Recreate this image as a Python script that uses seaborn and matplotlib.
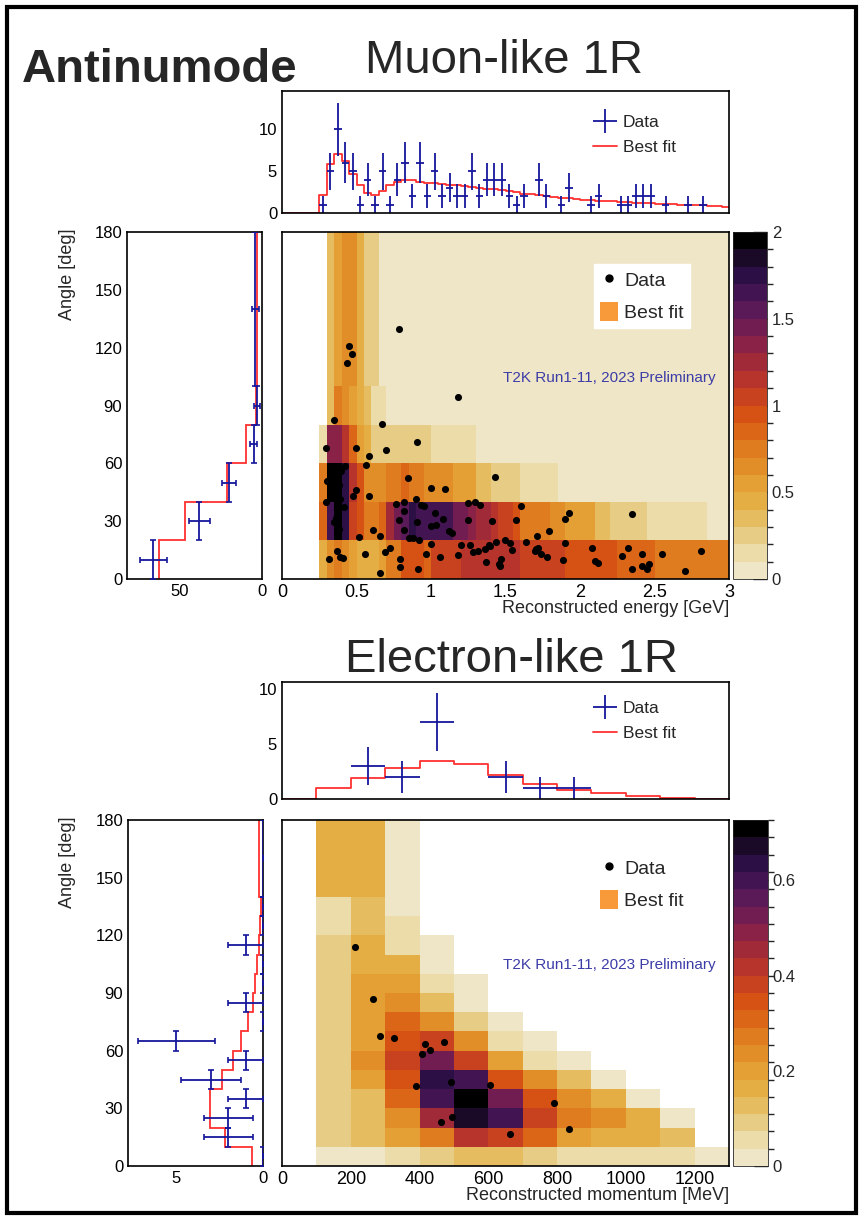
import numpy as np
import matplotlib
matplotlib.use("Agg")
import matplotlib.pyplot as plt
import seaborn as sns
from matplotlib.colors import ListedColormap, BoundaryNorm
from matplotlib.lines import Line2D
from matplotlib.patches import Patch, Rectangle
from matplotlib.ticker import MultipleLocator, FuncFormatter

sns.set_theme(style="white")
plt.rcParams["font.family"] = ["Liberation Sans", "DejaVu Sans"]

# ---------------- Muon-like 1R data ----------------
mu_e_edges = np.round(np.arange(0, 3.0001, 0.05), 3)
mu_top_data = [0, 0, 0, 0, 0, 1, 5, 10, 6, 5, 1, 4, 1, 5, 1, 4, 6, 2, 6, 2,
               5, 2, 3, 2, 2, 5, 2, 4, 4, 4, 2, 1, 2, 0, 4, 2, 0, 1, 3, 0,
               0, 1, 2, 0, 0, 1, 1, 2, 2, 2, 0, 1, 0, 0, 1, 0, 1, 0, 0, 0]
mu_top_fit = [0, 0, 0, 0, 0, 2.1, 5.9, 7.1, 6.2, 4.7, 3.3, 2.4, 2.2, 2.6, 3.3,
              3.7, 4.0, 3.9, 3.7, 3.6, 3.55, 3.45, 3.35, 3.3, 3.2, 3.1, 3.0, 2.9, 2.85, 2.7,
              2.6, 2.5, 2.3, 2.25, 2.1, 2.05, 1.9, 1.85, 1.75, 1.7, 1.6, 1.5, 1.48, 1.45, 1.4,
              1.35, 1.3, 1.25, 1.2, 1.15, 1.1, 1.08, 1.05, 1.0, 0.97, 0.93, 0.9, 0.85, 0.8, 0.76]

mu_ang_edges = [0, 20, 40, 60, 80, 100, 180]
mu_left_data = [66, 38, 20, 5, 3, 4]
mu_left_fit = [62.3, 47.0, 21.5, 9.5, 3.4, 3.0]

# best-fit 2D: per angle row, energy segment edges and contents
mu_row_edges = [
    [0.25, 0.3, 0.35, 0.4, 0.45, 0.5, 0.65, 0.7, 0.8, 0.95, 1.0, 1.2, 1.4, 1.5, 1.6, 1.9, 2.25, 2.4, 2.5, 2.7, 3.0],
    [0.25, 0.3, 0.35, 0.4, 0.45, 0.5, 0.55, 0.65, 0.7, 0.75, 0.8, 0.85, 0.9, 0.95, 1.15, 1.25, 1.3, 1.4, 1.45,
     1.55, 1.6, 1.8, 1.9, 2.1, 2.2, 2.45, 2.85, 3.0],
    [0.25, 0.3, 0.4, 0.45, 0.5, 0.55, 0.7, 0.8, 0.85, 0.95, 1.15, 1.3, 1.4, 1.6, 1.85, 3.0],
    [0.25, 0.3, 0.4, 0.45, 0.5, 0.55, 0.6, 1.0, 1.3, 3.0],
    [0.3, 0.35, 0.4, 0.45, 0.5, 0.55, 0.6, 0.7, 3.0],
    [0.3, 0.35, 0.4, 0.5, 0.55, 0.65, 3.0],
]
mu_row_vals = [
    [0.45, 0.65, 0.75, 0.65, 0.55, 0.42, 0.55, 0.75, 0.95, 0.85, 1.05, 1.15, 1.2, 1.15, 1.05, 0.95, 0.88, 0.82,
     0.76, 0.72],
    [0.82, 1.65, 1.95, 1.75, 1.05, 0.95, 0.75, 0.85, 1.25, 1.45, 1.55, 1.75, 1.65, 1.6, 1.45, 1.35, 1.25, 1.15,
     1.05, 0.95, 0.75, 0.65, 0.55, 0.35, 0.25, 0.15, 0.05],
    [0.75, 1.95, 1.75, 1.15, 0.95, 0.65, 0.75, 0.85, 0.75, 0.65, 0.55, 0.38, 0.27, 0.15, 0.05],
    [0.15, 1.35, 1.1, 0.82, 0.55, 0.42, 0.27, 0.18, 0.05],
    [0.38, 0.78, 0.65, 0.55, 0.42, 0.32, 0.18, 0.05],
    [0.35, 0.55, 0.62, 0.42, 0.22, 0.05],
]

mu_dot_e = [0.782, 0.453, 0.469, 0.438, 1.179, 0.351, 0.670,
            0.905, 0.292, 0.494, 0.697, 0.587,
            0.565, 0.420, 0.397, 0.301, 0.847, 1.430, 1.000, 1.097, 0.494, 0.478, 0.587, 0.900, 0.297, 1.293,
            0.32, 0.35, 0.38, 0.33, 0.36, 0.39,
            0.820, 0.762, 0.820, 0.931, 0.954, 1.027, 1.246, 1.329, 0.784, 0.905, 1.032, 1.000, 1.079, 1.249,
            0.418, 0.351, 0.817, 0.855, 0.880, 0.920, 0.614, 0.657, 0.518, 1.123, 1.141, 1.606, 1.407, 1.572,
            2.350, 1.928, 1.901, 1.794, 1.711, 1.494,
            0.37, 0.36, 0.38, 0.37,
            1.000, 1.204, 1.264, 1.313, 1.282, 1.184, 1.061, 0.969, 0.795, 0.793, 0.914, 0.728, 0.688, 0.558,
            0.657, 0.368, 0.386, 0.411, 0.315,
            1.640, 1.436, 1.530, 1.543, 1.389, 1.362, 1.704, 1.698, 1.735, 1.776, 1.899, 1.885, 2.080, 2.100,
            2.124, 2.283, 2.323, 2.415, 2.553, 2.814, 2.415, 2.462, 2.452, 2.348, 2.705, 1.459, 1.461, 1.467,
            1.367, 1.396, 1.715]
mu_dot_ang = [129.6, 120.9, 116.8, 112.3, 94.2, 82.4, 80.4,
              71.0, 68.1, 67.7, 66.9, 63.8,
              59.3, 58.6, 56.0, 51.0, 52.2, 52.7, 47.3, 46.5, 46.1, 43.0, 43.0, 41.3, 40.1, 40.1,
              55.5, 52.0, 49.0, 46.0, 43.5, 41.5,
              39.7, 38.7, 35.4, 38.5, 37.7, 34.4, 39.2, 38.2, 30.6, 29.5, 27.8, 27.5, 31.1, 30.6,
              37.5, 29.7, 25.4, 21.4, 21.1, 20.4, 25.2, 22.4, 21.6, 24.7, 24.0, 37.7, 30.1, 30.4,
              33.7, 34.2, 31.1, 25.1, 22.3, 20.2,
              36.0, 31.5, 26.0, 23.0,
              18.1, 17.6, 17.6, 14.7, 14.1, 12.2, 11.4, 13.1, 10.5, 6.4, 5.2, 16.1, 13.8, 12.9,
              2.9, 14.3, 11.5, 10.7, 10.5,
              19.2, 19.2, 18.5, 14.9, 17.5, 15.6, 15.7, 14.4, 13.0, 11.2, 18.8, 9.9, 16.1, 9.5,
              8.5, 12.1, 16.1, 13.1, 12.8, 14.5, 6.9, 7.6, 5.2, 5.4, 4.0, 7.8, 6.7, 10.2,
              8.8, 17.3, 16.2]

# ---------------- Electron-like 1R data ----------------
e_mom_edges = list(range(0, 1301, 100))
e_top_data = [0, 0, 3, 2, 7, 0, 2, 1, 1, 0, 0, 0, 0]
e_top_fit = [0, 1.04, 1.92, 2.81, 3.46, 3.17, 2.19, 1.33, 0.83, 0.5, 0.24, 0.09, 0.03]

e_ang_edges = [0, 10, 20, 30, 40, 50, 60, 70, 80, 90, 100, 110, 120, 130, 140, 180]
e_left_data = [0, 2, 2, 1, 3, 1, 5, 0, 1, 0, 0, 1, 0, 0, 0]
e_left_fit = [0.66, 2.18, 3.05, 3.05, 2.37, 1.75, 1.25, 0.84, 0.60, 0.45, 0.33, 0.25, 0.19, 0.14, 0.21]

# best-fit 2D, rows = angle bins (bottom to top), columns = 100..1300 MeV (0 = empty)
e_fit_2d = [
    [0.018, 0.018, 0.055, 0.091, 0.127, 0.127, 0.091, 0.055, 0.055, 0.055, 0.055, 0.018],
    [0.091, 0.127, 0.200, 0.273, 0.418, 0.382, 0.309, 0.200, 0.164, 0.164, 0.127, 0],
    [0.091, 0.127, 0.236, 0.455, 0.673, 0.600, 0.382, 0.273, 0.236, 0.164, 0.018, 0],
    [0.091, 0.127, 0.309, 0.600, 0.709, 0.527, 0.345, 0.236, 0.164, 0.018, 0, 0],
    [0.091, 0.200, 0.345, 0.636, 0.600, 0.345, 0.236, 0.127, 0.018, 0, 0, 0],
    [0.091, 0.236, 0.382, 0.527, 0.382, 0.200, 0.055, 0.018, 0, 0, 0, 0],
    [0.091, 0.200, 0.345, 0.382, 0.236, 0.055, 0.018, 0, 0, 0, 0, 0],
    [0.091, 0.200, 0.309, 0.236, 0.091, 0.018, 0, 0, 0, 0, 0, 0],
    [0.091, 0.200, 0.236, 0.127, 0.018, 0, 0, 0, 0, 0, 0, 0],
    [0.091, 0.200, 0.200, 0.055, 0.018, 0, 0, 0, 0, 0, 0, 0],
    [0.091, 0.164, 0.164, 0.018, 0, 0, 0, 0, 0, 0, 0, 0],
    [0.091, 0.164, 0.055, 0.018, 0, 0, 0, 0, 0, 0, 0, 0],
    [0.055, 0.127, 0.055, 0, 0, 0, 0, 0, 0, 0, 0, 0],
    [0.055, 0.127, 0.018, 0, 0, 0, 0, 0, 0, 0, 0, 0],
    [0.164, 0.164, 0.018, 0, 0, 0, 0, 0, 0, 0, 0, 0],
]

e_dot_mom = [213, 266, 285, 325, 415, 470, 429, 407, 390, 492, 604, 792, 494, 462, 663, 836]
e_dot_ang = [113.9, 87.0, 67.8, 66.4, 63.6, 64.5, 60.3, 58.1, 41.4, 43.5, 42.1, 32.8, 25.5, 22.7, 16.8, 19.2]

# ---------------- style ----------------
palette = ["#efe6c8", "#ebdcaa", "#e6cc85", "#e6bc60", "#e5ae45", "#e4a035", "#e18e28", "#df7c20",
           "#dc6618", "#d65214", "#c8421f", "#b6342b", "#a12a38", "#892246", "#721d51", "#5a1a57",
           "#421552", "#2c0f44", "#1a0a28", "#000000"]
cmap = ListedColormap(palette)
BLUE = "#16169c"
RED = "#ff3030"
fmt_g = FuncFormatter(lambda v, p: f"{v:g}")

W, H = 864, 1217
fig = plt.figure(figsize=(W / 100, H / 100), dpi=100)


def px_axes(l, t, r, b):
    return fig.add_axes([l / W, 1 - b / H, (r - l) / W, (b - t) / H])


def frame(ax, xmaj, xmin, ymaj, ymin):
    ax.xaxis.set_major_locator(MultipleLocator(xmaj))
    ax.xaxis.set_minor_locator(MultipleLocator(xmin))
    ax.yaxis.set_major_locator(MultipleLocator(ymaj))
    ax.yaxis.set_minor_locator(MultipleLocator(ymin))
    ax.xaxis.set_major_formatter(fmt_g)
    ax.yaxis.set_major_formatter(fmt_g)
    ax.tick_params(which="both", direction="in", top=False, right=False, labelsize=12, colors="black")
    ax.tick_params(which="major", length=9, width=1)
    ax.tick_params(which="minor", length=5, width=0.8)
    ax.set_facecolor("white")
    for s in ax.spines.values():
        s.set_linewidth(1.2)
        s.set_color("black")


def top_panel(ax, edges, data, fit, xmaj, xmin, ylim, leg_y):
    edges = np.asarray(edges, float)
    data = np.asarray(data, float)
    centers = 0.5 * (edges[1:] + edges[:-1])
    half = 0.5 * np.diff(edges)
    sns.lineplot(x=edges, y=list(fit) + [fit[-1]], drawstyle="steps-post", color=RED, lw=1.3, ax=ax)
    nz = data > 0
    ax.errorbar(centers[nz], data[nz], yerr=np.sqrt(data[nz]), xerr=half[nz], fmt="none",
                ecolor=BLUE, elinewidth=1.3, capsize=0)
    ax.set_xlim(edges[0], edges[-1])
    ax.set_ylim(0, ylim)
    frame(ax, xmaj, xmin, 5, 1)
    ax.tick_params(axis="x", labelbottom=False)
    ax.set_xlabel("")
    ax.set_ylabel("")
    hd = [Line2D([], [], color=BLUE, marker="+", ms=17, mew=1.3, ls="none"),
          Line2D([], [], color=RED, lw=1.3)]
    ax.legend(hd, ["Data", "Best fit"], loc="upper left", bbox_to_anchor=(0.688, leg_y), frameon=False,
              fontsize=12.5, handlelength=1.4, handletextpad=0.3, labelspacing=0.55, borderpad=0.2,
              borderaxespad=0)


def left_panel(ax, edges, data, fit, xmax, xmaj, xmin):
    edges = np.asarray(edges, float)
    data = np.asarray(data, float)
    centers = 0.5 * (edges[1:] + edges[:-1])
    half = 0.5 * np.diff(edges)
    ax.stairs(fit, edges, orientation="horizontal", color=RED, lw=1.3, baseline=None)
    ax.errorbar(data, centers, xerr=np.sqrt(data), yerr=half, fmt="none", ecolor=BLUE,
                elinewidth=1.3, capsize=2.5, capthick=1.2, zorder=4)
    ax.set_xlim(xmax, 0)
    ax.set_ylim(0, 180)
    frame(ax, xmaj, xmin, 30, 10)


def main_panel(ax, xe, ye, Z, zmax, dx, dy, xmax, xmaj, xmin, xlabel):
    norm = BoundaryNorm(np.linspace(0, zmax, 21), ncolors=20)
    Z = np.ma.masked_where(~(np.asarray(Z) > 0), np.asarray(Z))
    mesh = ax.pcolormesh(xe, ye, Z, cmap=cmap, norm=norm, shading="flat", edgecolors="face", linewidth=0)
    sns.scatterplot(x=dx, y=dy, color="black", s=26, linewidth=0, ax=ax, legend=False, zorder=5)
    ax.set_xlim(0, xmax)
    ax.set_ylim(0, 180)
    frame(ax, xmaj, xmin, 30, 10)
    ax.tick_params(axis="y", labelleft=False)
    ax.tick_params(axis="x", labelsize=13)
    ax.set_xlabel("")
    ax.set_ylabel("")
    ax.text(1.0, -0.085, xlabel, transform=ax.transAxes, ha="right", va="center", fontsize=13)
    ax.text(0.971, 0.58, "T2K Run1-11, 2023 Preliminary", transform=ax.transAxes, ha="right",
            va="center", fontsize=11, color="#3c3ca8")
    hd = [Line2D([], [], color="black", marker="o", ms=5, ls="none"),
          Patch(facecolor="#f99a3a", edgecolor="none")]
    leg = ax.legend(hd, ["Data", "Best fit"], loc="upper left", bbox_to_anchor=(0.698, 0.908), fontsize=14,
                    frameon=True, fancybox=False, framealpha=1, edgecolor="white", facecolor="white",
                    handlelength=0.95, handleheight=1.1, handletextpad=0.3, labelspacing=0.65,
                    borderpad=0.3, borderaxespad=0)
    leg.set_zorder(6)
    return mesh


def colorbar(mesh, cax, ticks):
    cb = fig.colorbar(mesh, cax=cax, ticks=ticks, format=fmt_g)
    cb.outline.set_linewidth(0.6)
    cax.tick_params(direction="in", length=10, width=1, labelsize=12, right=True)


# ---------------- muon panels ----------------
ax_mt = px_axes(282, 91, 729, 213)
top_panel(ax_mt, mu_e_edges, mu_top_data, mu_top_fit, 0.5, 0.1, 14.6, 0.83)

ax_ml = px_axes(127, 232, 262, 579)
left_panel(ax_ml, mu_ang_edges, mu_left_data, mu_left_fit, 82, 50, 10)

mu_Z = np.zeros((len(mu_ang_edges) - 1, len(mu_e_edges) - 1))
for r, (edg, val) in enumerate(zip(mu_row_edges, mu_row_vals)):
    for e0, e1, v in zip(edg[:-1], edg[1:], val):
        mu_Z[r, int(round(e0 / 0.05)):int(round(e1 / 0.05))] = v
ax_mm = px_axes(282, 232, 729, 579)
mesh_mu = main_panel(ax_mm, mu_e_edges, mu_ang_edges, mu_Z, 2.0, mu_dot_e, mu_dot_ang,
                     3.0, 0.5, 0.1, "Reconstructed energy [GeV]")
colorbar(mesh_mu, px_axes(733, 232, 767, 579), [0, 0.5, 1, 1.5, 2])

# ---------------- electron panels ----------------
ax_et = px_axes(282, 682, 729, 799)
top_panel(ax_et, e_mom_edges, e_top_data, e_top_fit, 200, 50, 10.6, 0.865)

ax_el = px_axes(128, 820, 263, 1166)
left_panel(ax_el, e_ang_edges, e_left_data, e_left_fit, 7.8, 5, 1)

e_Z = np.zeros((len(e_ang_edges) - 1, len(e_mom_edges) - 1))
e_Z[:, 1:] = np.array(e_fit_2d)
ax_em = px_axes(282, 820, 729, 1166)
mesh_e = main_panel(ax_em, e_mom_edges, e_ang_edges, e_Z, 0.727, e_dot_mom, e_dot_ang,
                    1300, 200, 50, "Reconstructed momentum [MeV]")
colorbar(mesh_e, px_axes(733, 820, 768, 1166), [0, 0.2, 0.4, 0.6])

# ---------------- titles and labels ----------------
fig.text(22 / W, 1 - 82 / H, "Antinumode", fontsize=34, fontweight="bold", va="baseline", ha="left")
fig.text(504 / W, 1 - 73 / H, "Muon-like 1R", fontsize=34, va="baseline", ha="center")
fig.text(511 / W, 1 - 672 / H, "Electron-like 1R", fontsize=34, va="baseline", ha="center")
fig.text(68 / W, 1 - 229 / H, "Angle [deg]", fontsize=13, rotation=90, ha="center", va="top")
fig.text(68 / W, 1 - 817 / H, "Angle [deg]", fontsize=13, rotation=90, ha="center", va="top")

fig.patches.append(Rectangle((7 / W, 1 - 1213 / H), 849 / W, 1206 / H, transform=fig.transFigure,
                             fill=False, lw=3, edgecolor="black"))

fig.savefig("out.png", dpi=100, facecolor="white")
